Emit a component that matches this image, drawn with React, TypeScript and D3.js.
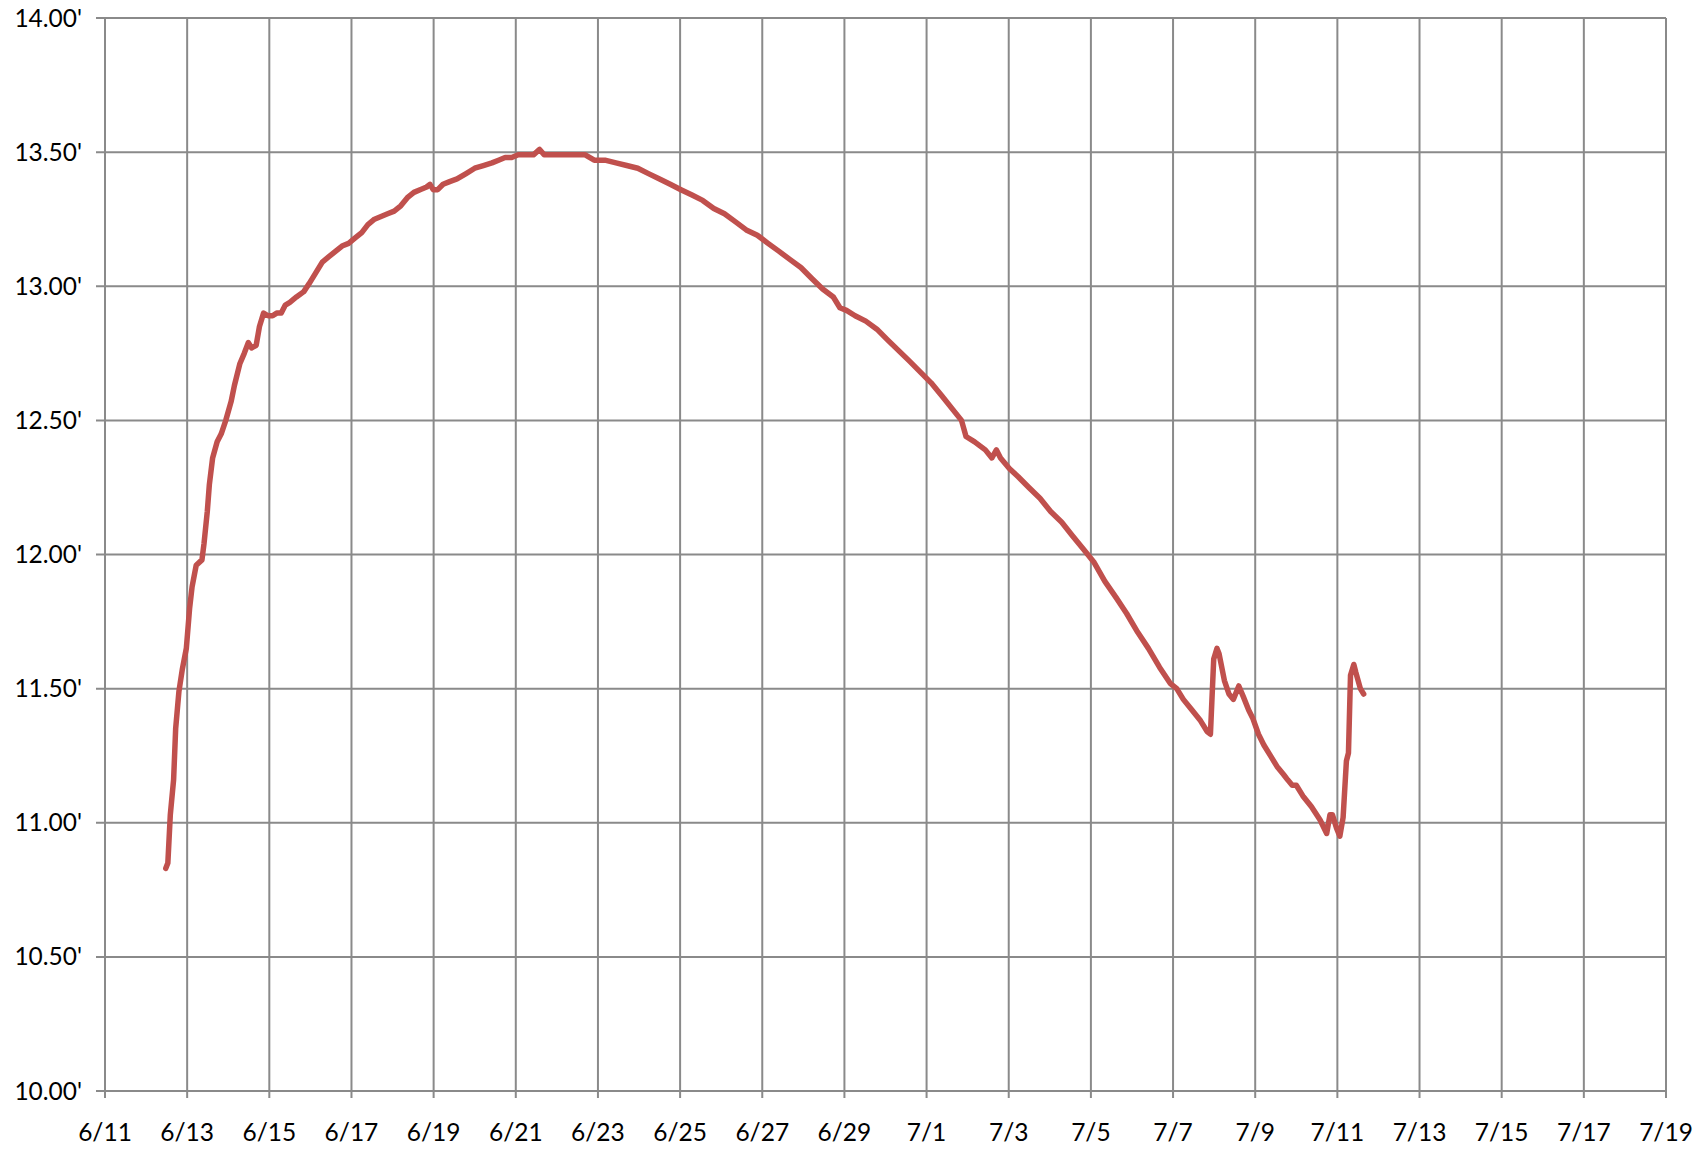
import React, { useEffect, useRef } from 'react';
import * as d3 from 'd3';

// readings, days since 6/11 00:00 and depth in feet
const dayOffsets = [
    1.48, 1.53, 1.59, 1.67, 1.72, 1.80, 1.88, 1.98, 2.06, 2.12, 2.22, 2.36, 2.41, 2.49, 2.54, 2.62,
    2.73, 2.83, 2.94, 3.07, 3.15, 3.28, 3.39, 3.49, 3.57, 3.68, 3.76, 3.86, 3.97, 4.08, 4.18, 4.29,
    4.39, 4.50, 4.66, 4.84, 4.97, 5.13, 5.29, 5.45, 5.61, 5.77, 5.93, 6.09, 6.25, 6.40, 6.56, 6.72,
    6.88, 7.04, 7.20, 7.36, 7.52, 7.67, 7.83, 7.91, 7.99, 8.10, 8.23, 8.39, 8.57, 8.79, 9.00, 9.21,
    9.42, 9.58, 9.74, 9.90, 10.06, 10.27, 10.43, 10.58, 10.69, 10.90, 11.17, 11.43, 11.69, 11.91,
    12.17, 12.44, 12.70, 12.97, 13.23, 13.50, 13.76, 14.02, 14.29, 14.55, 14.82, 15.08, 15.35, 15.61,
    15.88, 16.14, 16.41, 16.67, 16.94, 17.20, 17.47, 17.73, 17.89, 18.05, 18.26, 18.52, 18.79, 19.05,
    19.32, 19.59, 19.85, 20.11, 20.38, 20.64, 20.85, 20.96, 21.17, 21.43, 21.59, 21.70, 21.80, 22.02,
    22.23, 22.49, 22.76, 23.02, 23.29, 23.55, 23.82, 24.08, 24.34, 24.61, 24.87, 25.14, 25.40, 25.67,
    25.93, 26.09, 26.25, 26.46, 26.67, 26.83, 26.91, 26.99, 27.07, 27.12, 27.25, 27.36, 27.47, 27.60,
    27.71, 27.84, 27.94, 28.08, 28.21, 28.37, 28.53, 28.69, 28.79, 28.90, 29.00, 29.16, 29.37, 29.58,
    29.74, 29.82, 29.88, 29.98, 30.06, 30.14, 30.22, 30.27, 30.32, 30.40, 30.45, 30.56, 30.64
];

const depthFeet = [
    10.83, 10.85, 11.03, 11.16, 11.35, 11.49, 11.57, 11.65, 11.80, 11.88, 11.96, 11.98, 12.04, 12.16, 12.26, 12.36,
    12.42, 12.45, 12.50, 12.57, 12.63, 12.71, 12.75, 12.79, 12.77, 12.78, 12.85, 12.90, 12.89, 12.89, 12.90, 12.90,
    12.93, 12.94, 12.96, 12.98, 13.01, 13.05, 13.09, 13.11, 13.13, 13.15, 13.16, 13.18, 13.20, 13.23, 13.25, 13.26,
    13.27, 13.28, 13.30, 13.33, 13.35, 13.36, 13.37, 13.38, 13.36, 13.36, 13.38, 13.39, 13.40, 13.42, 13.44, 13.45,
    13.46, 13.47, 13.48, 13.48, 13.49, 13.49, 13.49, 13.51, 13.49, 13.49, 13.49, 13.49, 13.49, 13.47,
    13.47, 13.46, 13.45, 13.44, 13.42, 13.40, 13.38, 13.36, 13.34, 13.32, 13.29, 13.27, 13.24, 13.21,
    13.19, 13.16, 13.13, 13.10, 13.07, 13.03, 12.99, 12.96, 12.92, 12.91, 12.89, 12.87, 12.84, 12.80,
    12.76, 12.72, 12.68, 12.64, 12.59, 12.54, 12.50, 12.44, 12.42, 12.39, 12.36, 12.39, 12.36, 12.32,
    12.29, 12.25, 12.21, 12.16, 12.12, 12.07, 12.02, 11.97, 11.90, 11.84, 11.78, 11.71, 11.65, 11.58,
    11.52, 11.50, 11.46, 11.42, 11.38, 11.34, 11.33, 11.61, 11.65, 11.63, 11.53, 11.48, 11.46, 11.51,
    11.47, 11.42, 11.39, 11.33, 11.29, 11.25, 11.21, 11.18, 11.16, 11.14, 11.14, 11.10, 11.06, 11.01,
    10.96, 11.03, 11.03, 10.98, 10.95, 11.02, 11.23, 11.26, 11.55, 11.59, 11.56, 11.50, 11.48
];

const yTicks = [10, 10.5, 11, 11.5, 12, 12.5, 13, 13.5, 14];
const xTickDays = d3.range(0, 39, 2); // 6/11 .. 7/19

const startDate = new Date(2012, 5, 11);

export default function App() {
    const svgRef = useRef<SVGSVGElement>(null);

    useEffect(() => {
        const width = 1705, height = 1150;
        const margin = { top: 18, right: 39, bottom: 59, left: 105 };

        const svg = d3.select(svgRef.current);
        svg.selectAll('*').remove();

        const x = d3.scaleTime()
            .domain([startDate, d3.timeDay.offset(startDate, 38)])
            .range([margin.left, width - margin.right]);

        const y = d3.scaleLinear()
            .domain([10, 14])
            .range([height - margin.bottom, margin.top]);

        const grid = svg.append('g')
            .attr('stroke', '#8a8a8a')
            .attr('stroke-width', 2);

        grid.selectAll('line.h')
            .data(yTicks)
            .enter().append('line')
            .attr('class', 'h')
            .attr('x1', margin.left - 9)
            .attr('x2', width - margin.right)
            .attr('y1', d => y(d))
            .attr('y2', d => y(d));

        const xTicks = xTickDays.map(d => d3.timeDay.offset(startDate, d));

        grid.selectAll('line.v')
            .data(xTicks)
            .enter().append('line')
            .attr('class', 'v')
            .attr('x1', d => x(d))
            .attr('x2', d => x(d))
            .attr('y1', margin.top)
            .attr('y2', height - margin.bottom + 7);

        const font = 'Lato, "Open Sans", sans-serif';

        svg.append('g')
            .selectAll('text')
            .data(yTicks)
            .enter().append('text')
            .attr('x', 82)
            .attr('y', d => y(d) + 8.5)
            .attr('text-anchor', 'end')
            .attr('font-family', font)
            .attr('font-size', 24.5)
            .attr('fill', '#000')
            .text(d => d3.format('.2f')(d) + "'");

        const fmt = d3.timeFormat('%-m/%-d');
        svg.append('g')
            .selectAll('text')
            .data(xTicks)
            .enter().append('text')
            .attr('x', d => x(d))
            .attr('y', 1141)
            .attr('text-anchor', 'middle')
            .attr('font-family', font)
            .attr('font-size', 24.5)
            .attr('fill', '#000')
            .text(d => fmt(d));

        const points = dayOffsets.map((d, i) => ({
            date: new Date(startDate.getTime() + d * 864e5),
            value: depthFeet[i]
        }));

        const line = d3.line<{ date: Date; value: number }>()
            .x(d => x(d.date))
            .y(d => y(d.value));

        svg.append('path')
            .datum(points)
            .attr('d', line)
            .attr('fill', 'none')
            .attr('stroke', '#c0504d')
            .attr('stroke-width', 5.5)
            .attr('stroke-linejoin', 'round')
            .attr('stroke-linecap', 'round');
    }, []);

    return (
        <svg
            ref={svgRef}
            width={1705}
            height={1150}
            style={{ position: 'absolute', left: 0, top: 0, background: '#fff' }}
        />
    );
}
